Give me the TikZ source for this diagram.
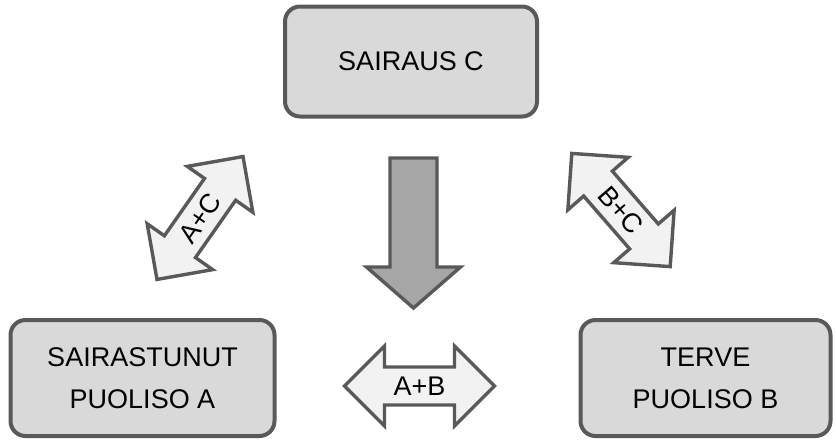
\documentclass[tikz,border=0pt]{standalone}
\usepackage{fontspec}
\setmainfont{Liberation Sans}
\usetikzlibrary{positioning}
\definecolor{reuna}{HTML}{595959}
\definecolor{laatikko}{HTML}{D9D9D9}
\definecolor{vaalea}{HTML}{F2F2F2}
\definecolor{tumma}{HTML}{A6A6A6}

\begin{document}
\begin{tikzpicture}[x=0.5pt, y=0.5pt,
    box/.style={draw=reuna, line width=2pt, fill=laatikko, rounded corners=7.5pt,
      align=center, font=\fontsize{13.5}{21}\selectfont},
    nuolireuna/.style={draw=reuna, line width=1.7pt, line join=miter},
    teksti/.style={font=\fontsize{13.5}{16}\selectfont, inner sep=0pt}]
    \useasboundingbox (0,0) rectangle (836,-441);
    \node[box, minimum width=126pt, minimum height=55pt] (sairaus) at (411,-61.5) {SAIRAUS C};
    \node[box, minimum width=132pt, minimum height=58pt] (puolisoA) at (142.5,-378) {SAIRASTUNUT\\PUOLISO A};
    \node[box, minimum width=125pt, minimum height=58pt] (puolisoB) at (705.5,-378) {TERVE\\PUOLISO B};
    % iso nuoli alas
    \draw[nuolireuna, fill=tumma] (390,-158) -- (437,-158) -- (437,-267) -- (460.5,-267)
        -- (413.5,-308) -- (366.5,-267) -- (390,-267) -- cycle;
    % kaksisuuntaiset nuolet
    \foreach \nimi/\x/\y/\kulma/\merkki in {ac/200/-218/55/A+C, bc/621/-210/-49/B+C, ab/419.5/-386/0/A+B} {
        \begin{scope}[shift={(\x,\y)}, rotate=\kulma]
            \draw[nuolireuna, fill=vaalea] (-75,0) -- (-35,40) -- (-35,19) -- (35,19) -- (35,40)
                -- (75,0) -- (35,-40) -- (35,-19) -- (-35,-19) -- (-35,-40) -- cycle;
            \node[teksti, rotate=\kulma] (\nimi) at (0,0) {\merkki};
        \end{scope}
    }
\end{tikzpicture}
\end{document}
